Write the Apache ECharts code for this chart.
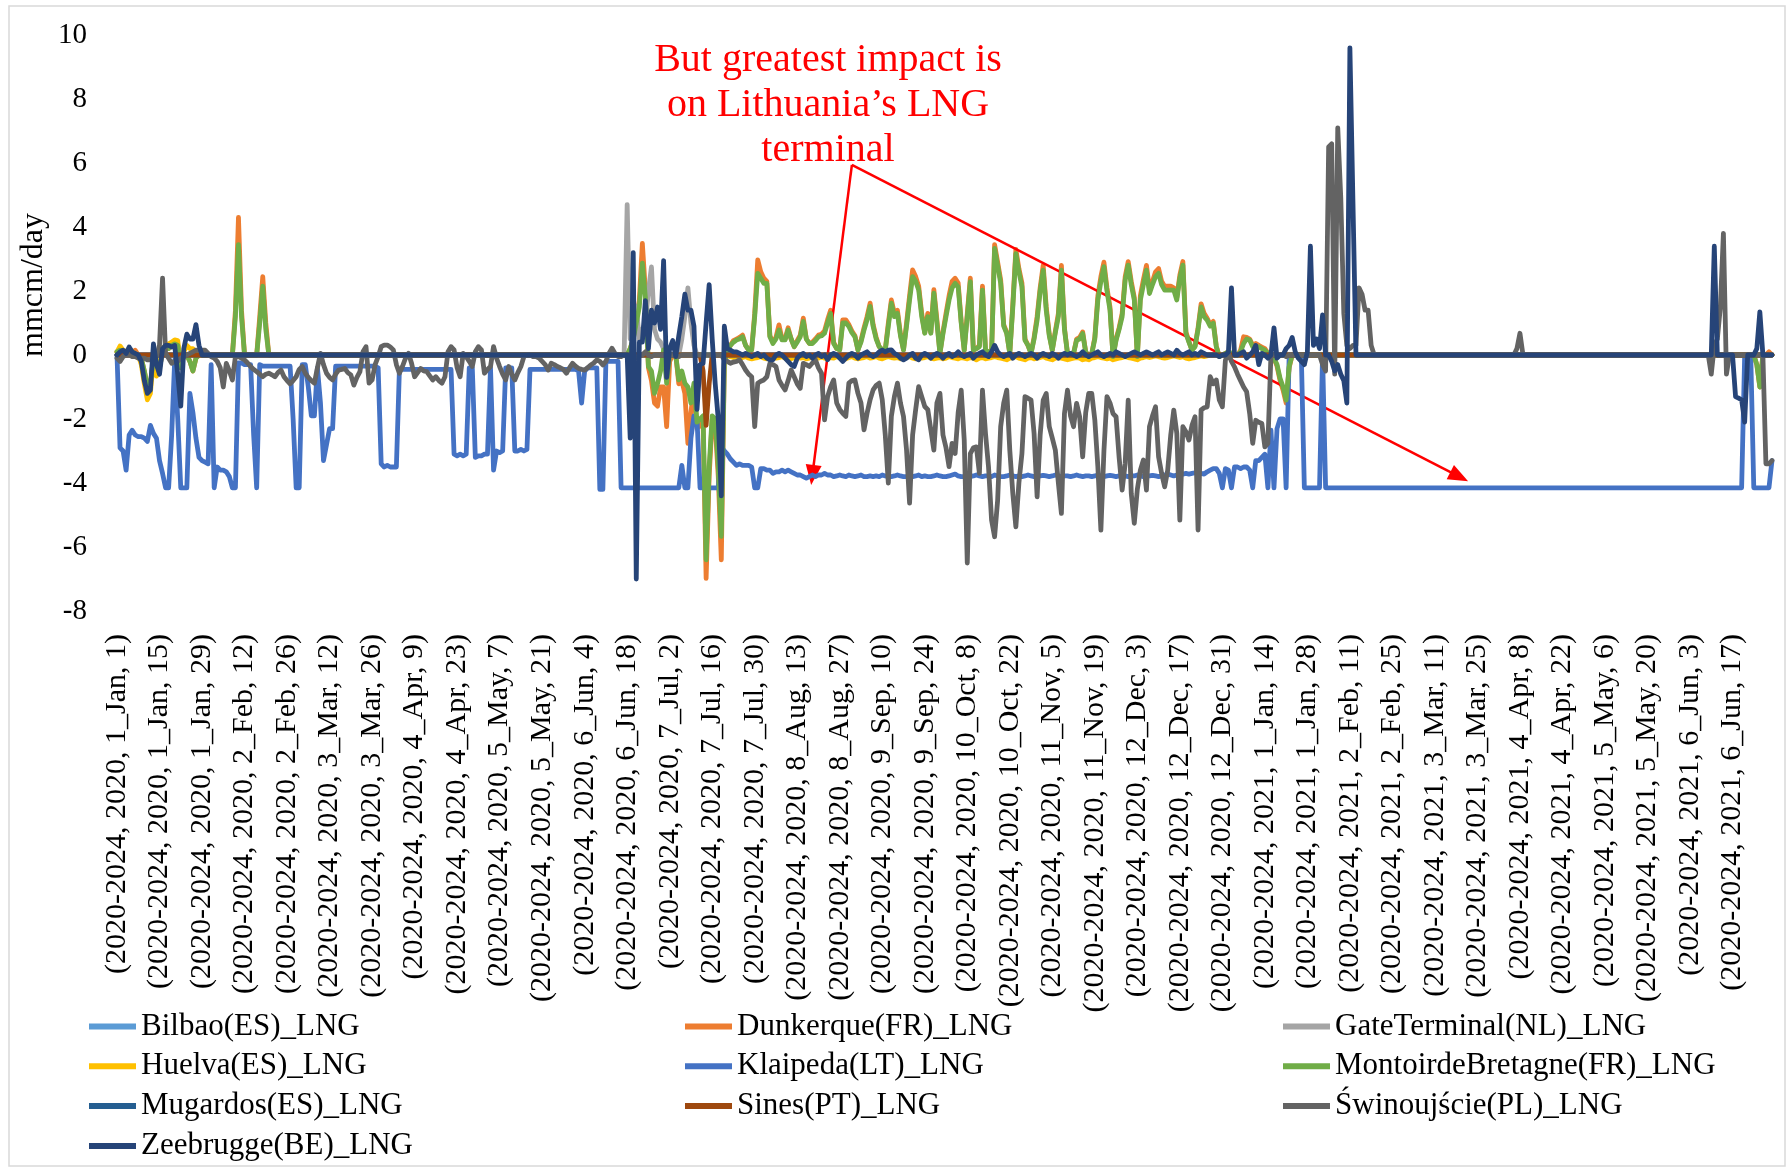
<!DOCTYPE html>
<html><head><meta charset="utf-8">
<script src="https://cdn.jsdelivr.net/npm/echarts/dist/echarts.min.js"></script>
<style>html,body{margin:0;padding:0;background:#fff}#c{width:1791px;height:1171px}</style>
</head><body><div id="c"></div>
<script>
const tickLabels = [
"(2020-2024, 2020, 1_Jan, 1)","(2020-2024, 2020, 1_Jan, 15)","(2020-2024, 2020, 1_Jan, 29)","(2020-2024, 2020, 2_Feb, 12)",
"(2020-2024, 2020, 2_Feb, 26)","(2020-2024, 2020, 3_Mar, 12)","(2020-2024, 2020, 3_Mar, 26)","(2020-2024, 2020, 4_Apr, 9)",
"(2020-2024, 2020, 4_Apr, 23)","(2020-2024, 2020, 5_May, 7)","(2020-2024, 2020, 5_May, 21)","(2020-2024, 2020, 6_Jun, 4)",
"(2020-2024, 2020, 6_Jun, 18)","(2020-2024, 2020, 7_Jul, 2)","(2020-2024, 2020, 7_Jul, 16)","(2020-2024, 2020, 7_Jul, 30)",
"(2020-2024, 2020, 8_Aug, 13)","(2020-2024, 2020, 8_Aug, 27)","(2020-2024, 2020, 9_Sep, 10)","(2020-2024, 2020, 9_Sep, 24)",
"(2020-2024, 2020, 10_Oct, 8)","(2020-2024, 2020, 10_Oct, 22)","(2020-2024, 2020, 11_Nov, 5)","(2020-2024, 2020, 11_Nov, 19)",
"(2020-2024, 2020, 12_Dec, 3)","(2020-2024, 2020, 12_Dec, 17)","(2020-2024, 2020, 12_Dec, 31)","(2020-2024, 2021, 1_Jan, 14)",
"(2020-2024, 2021, 1_Jan, 28)","(2020-2024, 2021, 2_Feb, 11)","(2020-2024, 2021, 2_Feb, 25)","(2020-2024, 2021, 3_Mar, 11)",
"(2020-2024, 2021, 3_Mar, 25)","(2020-2024, 2021, 4_Apr, 8)","(2020-2024, 2021, 4_Apr, 22)","(2020-2024, 2021, 5_May, 6)",
"(2020-2024, 2021, 5_May, 20)","(2020-2024, 2021, 6_Jun, 3)","(2020-2024, 2021, 6_Jun, 17)"];
const tickStep = 14;
const dayCount = 546;

const seriesNames = ["Bilbao(ES)_LNG","Dunkerque(FR)_LNG","GateTerminal(NL)_LNG","Huelva(ES)_LNG","Klaipeda(LT)_LNG",
"MontoirdeBretagne(FR)_LNG","Mugardos(ES)_LNG","Sines(PT)_LNG","Świnoujście(PL)_LNG","Zeebrugge(BE)_LNG"];
const seriesColors = ["#5B9BD5","#ED7D31","#A5A5A5","#FFC000","#4472C4","#70AD47","#255E91","#9E480E","#636363","#264478"];

const bilbao = [
/*0*/0,0,0,0,0,0,0,0,0,0,/*10*/0,0,0,0,0,0,0,0,0,0,/*20*/0,0,0,0,0,0,0,0,0,0,/*30*/0,0,0,0,0,0,0,0,0,0,
/*40*/0,0,0,0,0,0,0,0,0,0,/*50*/0,0,0,0,0,0,0,0,0,0,/*60*/0,0,0,0,0,0,0,0,0,0,/*70*/0,0,0,0,0,0,0,0,0,0,
/*80*/0,0,0,0,0,0,0,0,0,0,/*90*/0,0,0,0,0,0,0,0,0,0,/*100*/0,0,0,0,0,0,0,0,0,0,/*110*/0,0,0,0,0,0,0,0,0,0,
/*120*/0,0,0,0,0,0,0,0,0,0,/*130*/0,0,0,0,0,0,0,0,0,0,/*140*/0,0,0,0,0,0,0,0,0,0,/*150*/0,0,0,0,0,0,0,0,0,0,
/*160*/0,0,0,0,0,0,0,0,0,0,/*170*/0,0,0,0,0,0,0,0,0,0,/*180*/0,0,0,0,0,0,0,0,0,0,/*190*/0,0,0,0,0,0,0,0,0,0,
/*200*/0,0,0,0,0,0,0,0,0,0,/*210*/0,0,0,0,0,0,0,0,0,0,/*220*/0,0,0,0,0,0,0,0,0,0,/*230*/0,0,0,0,0,0,0,0,0,0,
/*240*/0,0,0,0,0,0,0,0,0,0,/*250*/0,0,0,0,0,0,0,0,0,0,/*260*/0,0,0,0,0,0,0,0,0,0,/*270*/0,0,0,0,0,0,0,0,0,0,
/*280*/0,0,0,0,0,0,0,0,0,0,/*290*/0,0,0,0,0,0,0,0,0,0,/*300*/0,0,0,0,0,0,0,0,0,0,/*310*/0,0,0,0,0,0,0,0,0,0,
/*320*/0,0,0,0,0,0,0,0,0,0,/*330*/0,0,0,0,0,0,0,0,0,0,/*340*/0,0,0,0,0,0,0,0,0,0,/*350*/0,0,0,0,0,0,0,0,0,0,
/*360*/0,0,0,0,0,0,0,0,0,0,/*370*/0,0,0,0,0,0,0,0,0,0,/*380*/0,0,0,0,0,0,0,0,0,0,/*390*/0,0,0,0,0,0,0,0,0,0,
/*400*/0,0,0,0,0,0,0,0,0,0,/*410*/0,0,0,0,0,0,0,0,0,0,/*420*/0,0,0,0,0,0,0,0,0,0,/*430*/0,0,0,0,0,0,0,0,0,0,
/*440*/0,0,0,0,0,0,0,0,0,0,/*450*/0,0,0,0,0,0,0,0,0,0,/*460*/0,0,0,0,0,0,0,0,0,0,/*470*/0,0,0,0,0,0,0,0,0,0,
/*480*/0,0,0,0,0,0,0,0,0,0,/*490*/0,0,0,0,0,0,0,0,0,0,/*500*/0,0,0,0,0,0,0,0,0,0,/*510*/0,0,0,0,0,0,0,0,0,0,
/*520*/0,0,0,0,0,0,0,0,0,0,/*530*/0,0,0,0,0,0,0,0,0,0,/*540*/0,0,0,0,0,0];

const dunkerque = [
/*0*/0.1,0.15,0.1,0.05,0.1,0.05,0.15,0,-0.1,-0.5,
/*10*/-1.0,-0.9,-0.1,-0.3,-0.4,0.1,0.2,0.2,0.3,0.35,
/*20*/0.3,-0.4,0,0,-0.2,-0.5,-0.1,0,0,0,
/*30*/0,0,0,0,0,0,0,0,0,1.4,
/*40*/4.3,1.4,0,0,0,0,0,1.2,2.45,1.0,
/*50*/0,0,0,0,0,0,0,0,0,0,/*60*/0,0,0,0,0,0,0,0,0,0,/*70*/0,0,0,0,0,0,0,0,0,0,/*80*/0,0,0,0,0,0,0,0,0,0,
/*90*/0,0,0,0,0,0,0,0,0,0,/*100*/0,0,0,0,0,0,0,0,0,0,/*110*/0,0,0,0,0,0,0,0,0,0,/*120*/0,0,0,0,0,0,0,0,0,0,
/*130*/0,0,0,0,0,0,0,0,0,0,/*140*/0,0,0,0,0,0,0,0,0,0,/*150*/0,0,0,0,0,0,0,0,0,0,
/*160*/0,0,0,0,0,0,0,0,0,0.2,
/*170*/0.5,1.1,1.7,3.49,2.0,-0.4,-0.8,-1.5,-1.6,-1.0,
/*180*/-1.0,-2.24,-0.2,0,0,-0.9,-0.8,-1.2,-2.76,-1.8,
/*190*/-1.0,-2.3,-2.2,-2.1,-6.98,-3.8,-2.0,-2.2,-3.8,-6.4,
/*200*/-0.3,0.16,0.3,0.45,0.5,0.55,0.62,0.3,0.16,0.16,
/*210*/1.3,2.97,2.6,2.4,2.3,0.6,0.4,0.55,0.94,0.5,
/*220*/0.5,0.85,0.5,0.26,0.45,0.62,1.15,0.5,0.36,0.4,
/*230*/0.5,0.62,0.65,0.75,1.1,1.4,0.4,0.2,0.16,1.1,
/*240*/1.1,0.95,0.75,0.6,0.16,0.45,0.85,1.2,1.62,0.95,
/*250*/0.55,0.26,0.16,0.16,1.0,1.72,1.3,1.4,0.65,0.16,
/*260*/1.0,1.85,2.66,2.45,2.15,1.3,0.7,1.3,0.7,2.04,
/*270*/1.1,0.05,0.72,1.3,1.85,2.3,2.4,2.25,1.05,0.15,
/*280*/1.3,2.4,0.15,0.2,0.3,2.15,0.15,0.1,0.05,3.45,
/*290*/2.9,2.35,0.95,0.7,0.05,1.6,3.3,2.7,2.25,0.5,
/*300*/0.3,0.05,0.55,1.2,2.1,2.8,1.5,0.65,0.15,0.75,
/*310*/1.3,2.8,0.85,0.05,0.05,0.05,0.5,0.55,0.72,0.1,
/*320*/-0.05,0.05,0.55,1.85,2.45,2.9,2.1,1.5,-0.05,0.5,
/*330*/0.85,1.3,2.45,2.92,2.3,1.8,-0.05,1.85,2.35,2.8,
/*340*/2.05,2.3,2.6,2.7,2.3,2.15,2.15,2.15,2.1,1.8,
/*350*/2.5,2.92,0.72,0.42,0.15,0.28,0.85,1.6,1.3,1.15,
/*360*/0.95,1.05,0.28,-0.05,0,0.05,0.1,0.05,0,0,
/*370*/0.15,0.57,0.55,0.5,0.3,0.36,0.3,0.25,0.2,0.05,
/*380*/0,-0.1,-0.35,-0.8,-1.1,-1.5,-0.4,0,0,0,
/*390*/0,0,0,0,0,0,0,0,0,0,/*400*/0,0,0,0,0,0,0,0,0,0,/*410*/0,0,0,0,0,0,0,0,0,0,/*420*/0,0,0,0,0,0,0,0,0,0,
/*430*/0,0,0,0,0,0,0,0,0,0,/*440*/0,0,0,0,0,0,0,0,0,0,/*450*/0,0,0,0,0,0,0,0,0,0,/*460*/0,0,0,0,0,0,0,0,0,0,
/*470*/0,0,0,0,0,0,0,0,0,0,/*480*/0,0,0,0,0,0,0,0,0,0,/*490*/0,0,0,0,0,0,0,0,0,0,/*500*/0,0,0,0,0,0,0,0,0,0,
/*510*/0,0,0,0,0,0,0,0,0,0,/*520*/0,0,0,0,0,0,0,0,0,0,/*530*/0,0,0,0,0,0,0,0,0,0,
/*540*/-0.3,-1.0,0,0,0.1,0];

const gateTerminal = [
/*0*/0,0,0,0,0,0,0,0,0,0,/*10*/0,0,0,0,0,0,0,0,0,0,/*20*/0,0,0,0,0,0,0,0,0,0,/*30*/0,0,0,0,0,0,0,0,0,0,
/*40*/0,0,0,0,0,0,0,0,0,0,/*50*/0,0,0,0,0,0,0,0,0,0,/*60*/0,0,0,0,0,0,0,0,0,0,/*70*/0,0,0,0,0,0,0,0,0,0,
/*80*/0,0,0,0,0,0,0,0,0,0,/*90*/0,0,0,0,0,0,0,0,0,0,/*100*/0,0,0,0,0,0,0,0,0,0,/*110*/0,0,0,0,0,0,0,0,0,0,
/*120*/0,0,0,0,0,0,0,0,0,0,/*130*/0,0,0,0,0,0,0,0,0,0,/*140*/0,0,0,0,0,0,0,0,0,0,/*150*/0,0,0,0,0,0,0,0,0,0,
/*160*/0,0,0,0,0,0,0,0,4.7,0.5,
/*170*/1.6,1.5,0.5,0.8,1.0,2.0,2.75,0.8,0.5,0.4,
/*180*/0.2,0,0,0,0,0,0.5,1.2,2.1,1.0,
/*190*/0.3,0,0,0,0,0,0,0,0,0,
/*200*/0,0,0,0,0,0,0,0,0,0,/*210*/0,0,0,0,0,0,0,0,0,0,/*220*/0,0,0,0,0,0,0,0,0,0,/*230*/0,0,0,0,0,0,0,0,0,0,
/*240*/0,0,0,0,0,0,0,0,0,0,/*250*/0,0,0,0,0,0,0,0,0,0,/*260*/0,0,0,0,0,0,0,0,0,0,/*270*/0,0,0,0,0,0,0,0,0,0,
/*280*/0,0,0,0,0,0,0,0,0,0,/*290*/0,0,0,0,0,0,0,0,0,0,/*300*/0,0,0,0,0,0,0,0,0,0,/*310*/0,0,0,0,0,0,0,0,0,0,
/*320*/0,0,0,0,0,0,0,0,0,0,/*330*/0,0,0,0,0,0,0,0,0,0,/*340*/0,0,0,0,0,0,0,0,0,0,/*350*/0,0,0,0,0,0,0,0,0,0,
/*360*/0,0,0,0,0,0,0,0,0,0,/*370*/0,0,0,0,0,0,0,0,0,0,/*380*/0,0,0,0,0,0,0,0,0,0,/*390*/0,0,0,0,0,0,0,0,0,0,
/*400*/0,0,0,0,0,0,0,0,0,0,/*410*/0,0,0,0,0,0,0,0,0,0,/*420*/0,0,0,0,0,0,0,0,0,0,/*430*/0,0,0,0,0,0,0,0,0,0,
/*440*/0,0,0,0,0,0,0,0,0,0,/*450*/0,0,0,0,0,0,0,0,0,0,/*460*/0,0,0,0,0,0,0,0,0,0,/*470*/0,0,0,0,0,0,0,0,0,0,
/*480*/0,0,0,0,0,0,0,0,0,0,/*490*/0,0,0,0,0,0,0,0,0,0,/*500*/0,0,0,0,0,0,0,0,0,0,/*510*/0,0,0,0,0,0,0,0,0,0,
/*520*/0,0,0,0,0,0,0,0,0,0,/*530*/0,0,0,0,0,0,0,0,0,0,/*540*/0,0,0,0,0,0];

const huelva = [
/*0*/0.1,0.28,0.15,0.1,0.2,0.1,0.05,0,-0.3,-0.9,
/*10*/-1.4,-1.2,-0.1,-0.66,-0.3,0.2,0.3,0.35,0.4,0.47,
/*20*/0.45,-0.3,0.1,0.3,0.2,0.2,0.1,0,0,0,
/*30*/0,0,0,0,0,0,0,0,0,0,/*40*/0,0,0,0,0,0,0,0,0,0,/*50*/0,0,0,0,0,0,0,0,0,0,/*60*/0,0,0,0,0,0,0,0,0,0,
/*70*/0,0,0,0,0,0,0,0,0,0,/*80*/0,0,0,0,0,0,0,0,0,0,/*90*/0,0,0,0,0,0,0,0,0,0,/*100*/0,0,0,0,0,0,0,0,0,0,
/*110*/0,0,0,0,0,0,0,0,0,0,/*120*/0,0,0,0,0,0,0,0,0,0,/*130*/0,0,0,0,0,0,0,0,0,0,/*140*/0,0,0,0,0,0,0,0,0,0,
/*150*/0,0,0,0,0,0,0,0,0,0,/*160*/0,0,0,0,0,0,0,0,0,0,/*170*/0,0,0,0,0,0,0,0,0,0,/*180*/0,0,0,0,0,0,0,0,0,0,
/*190*/0,0,0,0,0,0,0,0,0,0,
/*200*/0,-0.03,-0.05,-0.08,-0.05,-0.1,-0.08,-0.05,-0.1,-0.12,
/*210*/-0.1,-0.08,-0.05,-0.1,-0.12,-0.08,-0.05,-0.1,-0.08,-0.05,
/*220*/-0.1,-0.15,-0.12,-0.08,-0.05,-0.1,-0.08,-0.12,-0.1,-0.05,
/*230*/-0.08,-0.1,-0.05,-0.1,-0.12,-0.08,-0.1,-0.05,-0.08,-0.1,
/*240*/-0.12,-0.08,-0.05,-0.1,-0.12,-0.1,-0.08,-0.05,-0.1,-0.08,
/*250*/-0.05,-0.1,-0.12,-0.08,-0.05,-0.08,-0.1,-0.08,-0.12,-0.1,
/*260*/-0.08,-0.05,-0.1,-0.12,-0.08,-0.1,-0.08,-0.05,-0.1,-0.12,
/*270*/-0.1,-0.08,-0.12,-0.1,-0.05,-0.08,-0.1,-0.12,-0.08,-0.1,
/*280*/-0.12,-0.08,-0.1,-0.15,-0.1,-0.08,-0.12,-0.1,-0.08,-0.05,
/*290*/-0.08,-0.1,-0.12,-0.15,-0.1,-0.08,-0.05,-0.1,-0.12,-0.15,
/*300*/-0.1,-0.08,-0.12,-0.1,-0.08,-0.05,-0.1,-0.12,-0.15,-0.1,
/*310*/-0.08,-0.1,-0.12,-0.15,-0.12,-0.1,-0.08,-0.1,-0.15,-0.12,
/*320*/-0.15,-0.1,-0.08,-0.05,-0.08,-0.1,-0.12,-0.1,-0.15,-0.12,
/*330*/-0.1,-0.08,-0.05,-0.08,-0.1,-0.12,-0.15,-0.1,-0.08,-0.05,
/*340*/-0.08,-0.05,-0.03,-0.05,-0.08,-0.1,-0.08,-0.05,-0.03,-0.05,
/*350*/-0.08,-0.05,-0.1,-0.12,-0.1,-0.08,-0.05,-0.03,-0.05,-0.03,
/*360*/0,0,0,0,0,0,0,0,0,0,/*370*/0,0,0,0,0,0,0,0,0,0,/*380*/0,0,0,0,0,0,0,0,0,0,/*390*/0,0,0,0,0,0,0,0,0,0,
/*400*/0,0,0,0,0,0,0,0,0,0,/*410*/0,0,0,0,0,0,0,0,0,0,/*420*/0,0,0,0,0,0,0,0,0,0,/*430*/0,0,0,0,0,0,0,0,0,0,
/*440*/0,0,0,0,0,0,0,0,0,0,/*450*/0,0,0,0,0,0,0,0,0,0,/*460*/0,0,0,0,0,0,0,0,0,0,/*470*/0,0,0,0,0,0,0,0,0,0,
/*480*/0,0,0,0,0,0,0,0,0,0,/*490*/0,0,0,0,0,0,0,0,0,0,/*500*/0,0,0,0,0,0,0,0,0,0,/*510*/0,0,0,0,0,0,0,0,0,0,
/*520*/0,0,0,0,0,0,0,0,0,0,/*530*/0,0,0,0,0,0,0,0,0,0,/*540*/0,0,0,0,0,0];

const klaipeda = [
/*0*/0,-2.9,-3.0,-3.6,-2.5,-2.35,-2.5,-2.55,-2.55,-2.6,
/*10*/-2.7,-2.2,-2.45,-2.6,-3.3,-3.7,-4.15,-4.15,-2.5,-0.15,
/*20*/-2.0,-4.15,-4.15,-4.15,-1.2,-1.8,-2.6,-3.2,-3.3,-3.35,
/*30*/-3.4,-0.3,-4.15,-3.5,-3.6,-3.6,-3.65,-3.8,-4.15,-4.15,
/*40*/-0.25,-0.25,-0.3,-0.3,-0.3,-2.5,-4.15,-0.3,-0.35,-0.35,
/*50*/-0.35,-0.35,-0.35,-0.35,-0.35,-0.35,-0.35,-0.35,-2.0,-4.15,
/*60*/-4.15,-0.3,-0.3,-1.0,-1.9,-1.9,-0.4,-1.5,-3.3,-2.8,
/*70*/-2.3,-2.3,-0.35,-0.35,-0.35,-0.35,-0.35,-0.35,-0.35,-0.35,
/*80*/-0.35,-0.35,-0.35,-0.35,-0.35,-0.35,-0.4,-3.4,-3.5,-3.45,
/*90*/-3.5,-3.5,-3.5,-0.45,-0.45,-0.45,-0.45,-0.45,-0.45,-0.45,
/*100*/-0.45,-0.45,-0.45,-0.45,-0.45,-0.45,-0.45,-0.45,-0.45,-0.45,
/*110*/-0.45,-3.1,-3.15,-3.1,-3.15,-3.1,-0.4,-0.4,-3.2,-3.15,
/*120*/-3.15,-3.1,-3.1,-0.4,-3.6,-3.0,-3.05,-3.0,-0.4,-0.4,
/*130*/-0.4,-3.0,-3.0,-2.95,-3.0,-2.95,-0.45,-0.45,-0.45,-0.45,
/*140*/-0.45,-0.45,-0.45,-0.45,-0.45,-0.45,-0.45,-0.45,-0.45,-0.45,
/*150*/-0.45,-0.45,-0.5,-1.5,-0.5,-0.4,-0.4,-0.4,-0.4,-4.2,
/*160*/-4.2,-0.2,-0.2,-0.2,-0.2,-0.2,-4.15,-4.15,-4.15,-4.15,
/*170*/-4.15,-4.15,-4.15,-4.15,-4.15,-4.15,-4.15,-4.15,-4.15,-4.15,
/*180*/-4.15,-4.15,-4.15,-4.15,-4.15,-4.15,-3.45,-4.15,-4.15,-2.6,
/*190*/-1.9,-2.0,-4.15,-4.15,-4.15,-4.15,-4.15,-4.15,-4.15,-2.85,
/*200*/-3.0,-3.1,-3.25,-3.35,-3.45,-3.4,-3.45,-3.45,-3.45,-3.5,
/*210*/-4.15,-4.15,-3.55,-3.55,-3.6,-3.6,-3.7,-3.65,-3.65,-3.6,
/*220*/-3.65,-3.6,-3.65,-3.7,-3.75,-3.75,-3.8,-3.85,-3.8,-3.75,
/*230*/-3.8,-3.75,-3.75,-3.7,-3.75,-3.75,-3.8,-3.78,-3.75,-3.78,
/*240*/-3.8,-3.75,-3.78,-3.8,-3.78,-3.75,-3.8,-3.8,-3.78,-3.8,
/*250*/-3.78,-3.8,-3.75,-3.78,-3.8,-3.8,-3.78,-3.75,-3.78,-3.8,
/*260*/-3.8,-3.78,-3.8,-3.78,-3.75,-3.8,-3.78,-3.8,-3.8,-3.78,
/*270*/-3.75,-3.78,-3.8,-3.8,-3.78,-3.75,-3.72,-3.78,-3.8,-3.8,
/*280*/-3.78,-3.8,-3.78,-3.75,-3.78,-3.8,-3.78,-3.78,-3.8,-3.75,
/*290*/-3.78,-3.8,-3.8,-3.78,-3.75,-3.78,-3.8,-3.78,-3.8,-3.78,
/*300*/-3.75,-3.78,-3.8,-3.8,-3.78,-3.76,-3.78,-3.8,-3.78,-3.75,
/*310*/-3.78,-3.8,-3.78,-3.78,-3.8,-3.78,-3.75,-3.78,-3.8,-3.78,
/*320*/-3.78,-3.8,-3.78,-3.75,-3.78,-3.8,-3.78,-3.76,-3.78,-3.8,
/*330*/-3.78,-3.75,-3.78,-3.8,-3.78,-3.78,-3.75,-3.78,-3.8,-3.78,
/*340*/-3.78,-3.76,-3.78,-3.8,-3.78,-3.75,-3.72,-3.75,-3.78,-3.75,
/*350*/-3.75,-3.72,-3.7,-3.72,-3.7,-3.68,-3.7,-3.7,-3.72,-3.65,
/*360*/-3.6,-3.55,-3.55,-3.7,-4.15,-3.55,-3.6,-4.15,-3.5,-3.5,
/*370*/-3.55,-3.5,-3.5,-3.6,-4.15,-3.3,-3.3,-3.2,-3.1,-4.15,
/*380*/-2.35,-4.15,-2.3,-2.0,-2.0,-4.15,0,0,0,0,
/*390*/0,-4.15,-4.15,-4.15,-4.15,-4.15,-4.15,0,-4.15,-4.15,
/*400*/-4.15,-4.15,-4.15,-4.15,-4.15,-4.15,-4.15,-4.15,-4.15,-4.15,
/*410*/-4.15,-4.15,-4.15,-4.15,-4.15,-4.15,-4.15,-4.15,-4.15,-4.15,
/*420*/-4.15,-4.15,-4.15,-4.15,-4.15,-4.15,-4.15,-4.15,-4.15,-4.15,
/*430*/-4.15,-4.15,-4.15,-4.15,-4.15,-4.15,-4.15,-4.15,-4.15,-4.15,
/*440*/-4.15,-4.15,-4.15,-4.15,-4.15,-4.15,-4.15,-4.15,-4.15,-4.15,
/*450*/-4.15,-4.15,-4.15,-4.15,-4.15,-4.15,-4.15,-4.15,-4.15,-4.15,
/*460*/-4.15,-4.15,-4.15,-4.15,-4.15,-4.15,-4.15,-4.15,-4.15,-4.15,
/*470*/-4.15,-4.15,-4.15,-4.15,-4.15,-4.15,-4.15,-4.15,-4.15,-4.15,
/*480*/-4.15,-4.15,-4.15,-4.15,-4.15,-4.15,-4.15,-4.15,-4.15,-4.15,
/*490*/-4.15,-4.15,-4.15,-4.15,-4.15,-4.15,-4.15,-4.15,-4.15,-4.15,
/*500*/-4.15,-4.15,-4.15,-4.15,-4.15,-4.15,-4.15,-4.15,-4.15,-4.15,
/*510*/-4.15,-4.15,-4.15,-4.15,-4.15,-4.15,-4.15,-4.15,-4.15,-4.15,
/*520*/-4.15,-4.15,-4.15,-4.15,-4.15,-4.15,-4.15,-4.15,-4.15,-4.15,
/*530*/-4.15,-4.15,-4.15,-4.15,-4.15,-4.15,0,0,0,-4.15,
/*540*/-4.15,-4.15,-4.15,-4.15,-4.15,-3.3];

const montoir = [
/*0*/0.1,0.15,0.1,0.05,0.1,0.05,0,0,-0.1,-0.5,
/*10*/-1.0,-0.9,-0.1,-0.3,-0.4,0.1,0.2,0.2,0.3,0.35,
/*20*/0.3,-0.4,0,0,-0.2,-0.5,-0.1,0,0,0,
/*30*/0,0,0,0,0,0,0,0,0,1.2,
/*40*/3.45,1.2,0,0,0,0,0,1.0,2.15,0.8,
/*50*/0,0,0,0,0,0,0,0,0,0,/*60*/0,0,0,0,0,0,0,0,0,0,/*70*/0,0,0,0,0,0,0,0,0,0,/*80*/0,0,0,0,0,0,0,0,0,0,
/*90*/0,0,0,0,0,0,0,0,0,0,/*100*/0,0,0,0,0,0,0,0,0,0,/*110*/0,0,0,0,0,0,0,0,0,0,/*120*/0,0,0,0,0,0,0,0,0,0,
/*130*/0,0,0,0,0,0,0,0,0,0,/*140*/0,0,0,0,0,0,0,0,0,0,/*150*/0,0,0,0,0,0,0,0,0,0,
/*160*/0,0,0,0,0,0,0,0,0,0.2,
/*170*/0.5,1.0,1.5,2.87,1.8,-0.36,-0.5,-1.2,-0.9,-0.5,
/*180*/0.16,-0.88,0,0,0,-0.78,-0.5,-0.88,-1.0,-1.5,
/*190*/-0.88,-2.1,-2.0,-1.9,-6.4,-3.5,-1.9,-2.0,-3.5,-5.67,
/*200*/-0.26,0.16,0.3,0.4,0.47,0.5,0.57,0.3,0.16,0.16,
/*210*/1.2,2.55,2.4,2.24,2.24,0.57,0.36,0.5,0.78,0.47,
/*220*/0.47,0.78,0.5,0.26,0.4,0.57,1.05,0.5,0.36,0.36,
/*230*/0.45,0.57,0.6,0.68,1.0,1.3,0.36,0.2,0.16,1.0,
/*240*/1.0,0.89,0.7,0.57,0.16,0.4,0.78,1.1,1.52,0.89,
/*250*/0.5,0.26,0.16,0.16,0.9,1.62,1.2,1.3,0.6,0.16,
/*260*/0.9,1.72,2.45,2.3,2.03,1.2,0.68,1.2,0.68,1.93,
/*270*/1.0,0.05,0.67,1.2,1.72,2.1,2.24,2.13,1.0,0.15,
/*280*/1.2,2.29,0.15,0.2,0.26,2.03,0.15,0.1,0.05,3.33,
/*290*/2.8,2.24,0.9,0.67,0.05,1.5,3.17,2.6,2.13,0.46,
/*300*/0.3,0.05,0.5,1.09,2.0,2.65,1.4,0.6,0.15,0.7,
/*310*/1.2,2.65,0.8,0.05,0.05,0.05,0.46,0.5,0.67,0.1,
/*320*/-0.05,0.05,0.5,1.72,2.3,2.76,2.0,1.4,-0.05,0.46,
/*330*/0.8,1.2,2.34,2.81,2.2,1.72,-0.05,1.72,2.2,2.65,
/*340*/1.92,2.2,2.45,2.55,2.2,2.03,2.03,2.03,2.03,1.72,
/*350*/2.4,2.81,0.67,0.4,0.15,0.26,0.8,1.5,1.2,1.09,
/*360*/0.9,0.99,0.26,-0.05,0,0.05,0.1,0.05,0,0,
/*370*/0.1,0.36,0.5,0.47,0.26,0.2,0.26,0.2,0.15,0.05,
/*380*/0,-0.1,-0.3,-0.73,-1.0,-1.41,-0.36,0,0,0,
/*390*/0,0,0,0,0,0,0,0,0,0,/*400*/0,0,0,0,0,0,0,0,0,0,/*410*/0,0,0,0,0,0,0,0,0,0,/*420*/0,0,0,0,0,0,0,0,0,0,
/*430*/0,0,0,0,0,0,0,0,0,0,/*440*/0,0,0,0,0,0,0,0,0,0,/*450*/0,0,0,0,0,0,0,0,0,0,/*460*/0,0,0,0,0,0,0,0,0,0,
/*470*/0,0,0,0,0,0,0,0,0,0,/*480*/0,0,0,0,0,0,0,0,0,0,/*490*/0,0,0,0,0,0,0,0,0,0,/*500*/0,0,0,0,0,0,0,0,0,0,
/*510*/0,0,0,0,0,0,0,0,0,0,/*520*/0,0,0,0,0,0,0,0,0,0,/*530*/0,0,0,0,0,0,0,0,0,0,
/*540*/-0.3,-1.0,0,0,0,0];

const mugardos = [
/*0*/0,0,0,0,0,0,0,0,0,0,/*10*/0,0,0,0,0,0,0,0,0,0,/*20*/0,0,0,0,0,0,0,0,0,0,/*30*/0,0,0,0,0,0,0,0,0,0,
/*40*/0,0,0,0,0,0,0,0,0,0,/*50*/0,0,0,0,0,0,0,0,0,0,/*60*/0,0,0,0,0,0,0,0,0,0,/*70*/0,0,0,0,0,0,0,0,0,0,
/*80*/0,0,0,0,0,0,0,0,0,0,/*90*/0,0,0,0,0,0,0,0,0,0,/*100*/0,0,0,0,0,0,0,0,0,0,/*110*/0,0,0,0,0,0,0,0,0,0,
/*120*/0,0,0,0,0,0,0,0,0,0,/*130*/0,0,0,0,0,0,0,0,0,0,/*140*/0,0,0,0,0,0,0,0,0,0,/*150*/0,0,0,0,0,0,0,0,0,0,
/*160*/0,0,0,0,0,0,0,0,0,0,/*170*/0,0,0,0,0,0,0,0,0,0,/*180*/0,0,0,0,0,0,0,0,0,0,/*190*/0,0,0,0,0,0,0,0,0,0,
/*200*/0,0,0,0,0,0,0,0,0,0,/*210*/0,0,0,0,0,0,0,0,0,0,/*220*/0,0,0,0,0,0,0,0,0,0,/*230*/0,0,0,0,0,0,0,0,0,0,
/*240*/0,0,0,0,0,0,0,0,0,0,/*250*/0,0,0,0,0,0,0,0,0,0,/*260*/0,0,0,0,0,0,0,0,0,0,/*270*/0,0,0,0,0,0,0,0,0,0,
/*280*/0,0,0,0,0,0,0,0,0,0,/*290*/0,0,0,0,0,0,0,0,0,0,/*300*/0,0,0,0,0,0,0,0,0,0,/*310*/0,0,0,0,0,0,0,0,0,0,
/*320*/0,0,0,0,0,0,0,0,0,0,/*330*/0,0,0,0,0,0,0,0,0,0,/*340*/0,0,0,0,0,0,0,0,0,0,/*350*/0,0,0,0,0,0,0,0,0,0,
/*360*/0,0,0,0,0,0,0,0,0,0,/*370*/0,0,0,0,0,0,0,0,0,0,/*380*/0,0,0,0,0,0,0,0,0,0,/*390*/0,0,0,0,0,0,0,0,0,0,
/*400*/0,0,0,0,0,0,0,0,0,0,/*410*/0,0,0,0,0,0,0,0,0,0,/*420*/0,0,0,0,0,0,0,0,0,0,/*430*/0,0,0,0,0,0,0,0,0,0,
/*440*/0,0,0,0,0,0,0,0,0,0,/*450*/0,0,0,0,0,0,0,0,0,0,/*460*/0,0,0,0,0,0,0,0,0,0,/*470*/0,0,0,0,0,0,0,0,0,0,
/*480*/0,0,0,0,0,0,0,0,0,0,/*490*/0,0,0,0,0,0,0,0,0,0,/*500*/0,0,0,0,0,0,0,0,0,0,/*510*/0,0,0,0,0,0,0,0,0,0,
/*520*/0,0,0,0,0,0,0,0,0,0,/*530*/0,0,0,0,0,0,0,0,0,0,/*540*/0,0,0,0,0,0];

const sines = [
/*0*/0,0,0,0,0,0,0,0,0,0,/*10*/0,0,0,0,0,0,0,0,0,0,/*20*/0,0,0,0,0,0,0,0,0,0,/*30*/0,0,0,0,0,0,0,0,0,0,
/*40*/0,0,0,0,0,0,0,0,0,0,/*50*/0,0,0,0,0,0,0,0,0,0,/*60*/0,0,0,0,0,0,0,0,0,0,/*70*/0,0,0,0,0,0,0,0,0,0,
/*80*/0,0,0,0,0,0,0,0,0,0,/*90*/0,0,0,0,0,0,0,0,0,0,/*100*/0,0,0,0,0,0,0,0,0,0,/*110*/0,0,0,0,0,0,0,0,0,0,
/*120*/0,0,0,0,0,0,0,0,0,0,/*130*/0,0,0,0,0,0,0,0,0,0,/*140*/0,0,0,0,0,0,0,0,0,0,/*150*/0,0,0,0,0,0,0,0,0,0,
/*160*/0,0,0,0,0,0,0,0,0,0,/*170*/0,0,0,0,0,0,0,0,0,0,/*180*/0,0,0,0,0,0,0,0,0,0,
/*190*/0,0,0,-0.5,-2.2,-0.9,0,0,0,0,
/*200*/0,0,0,0,0,0,0,0,0,0,/*210*/0,0,0,0,0,0,0,0,0,0,/*220*/0,0,0,0,0,0,0,0,0,0,/*230*/0,0,0,0,0,0,0,0,0,0,
/*240*/0,0,0,0,0,0,0,0,0,0,/*250*/0,0,0,0,0,0,0,0,0,0,/*260*/0,0,0,0,0,0,0,0,0,0,/*270*/0,0,0,0,0,0,0,0,0,0,
/*280*/0,0,0,0,0,0,0,0,0,0,/*290*/0,0,0,0,0,0,0,0,0,0,/*300*/0,0,0,0,0,0,0,0,0,0,/*310*/0,0,0,0,0,0,0,0,0,0,
/*320*/0,0,0,0,0,0,0,0,0,0,/*330*/0,0,0,0,0,0,0,0,0,0,/*340*/0,0,0,0,0,0,0,0,0,0,/*350*/0,0,0,0,0,0,0,0,0,0,
/*360*/0,0,0,0,0,0,0,0,0,0,/*370*/0,0,0,0,0,0,0,0,0,0,/*380*/0,0,0,0,0,0,0,0,0,0,/*390*/0,0,0,0,0,0,0,0,0,0,
/*400*/0,0,0,0,0,0,0,0,0,0,/*410*/0,0,0,0,0,0,0,0,0,0,/*420*/0,0,0,0,0,0,0,0,0,0,/*430*/0,0,0,0,0,0,0,0,0,0,
/*440*/0,0,0,0,0,0,0,0,0,0,/*450*/0,0,0,0,0,0,0,0,0,0,/*460*/0,0,0,0,0,0,0,0,0,0,/*470*/0,0,0,0,0,0,0,0,0,0,
/*480*/0,0,0,0,0,0,0,0,0,0,/*490*/0,0,0,0,0,0,0,0,0,0,/*500*/0,0,0,0,0,0,0,0,0,0,/*510*/0,0,0,0,0,0,0,0,0,0,
/*520*/0,0,0,0,0,0,0,0,0,0,/*530*/0,0,0,0,0,0,0,0,0,0,/*540*/0,0,0,0,0,0];

const swinoujscie = [
/*0*/-0.1,-0.2,-0.05,0,0,-0.05,-0.05,-0.1,-0.1,-0.1,
/*10*/-0.15,-0.15,-0.1,-0.05,0.3,2.4,0.05,-0.1,-0.26,-0.2,
/*20*/-0.2,-0.1,-0.05,0,0.05,0.1,0.15,0.15,0.15,0.15,
/*30*/0.05,-0.05,-0.1,-0.2,-0.4,-1.0,-0.26,-0.5,-0.78,-0.05,
/*40*/-0.05,-0.1,-0.15,-0.25,-0.36,-0.45,-0.52,-0.6,-0.68,-0.6,
/*50*/-0.57,-0.62,-0.68,-0.55,-0.47,-0.68,-0.8,-0.9,-0.8,-0.68,
/*60*/-0.45,-0.36,-0.57,-0.7,-0.8,-0.88,-0.4,0.05,-0.3,-0.57,
/*70*/-0.7,-0.78,-0.6,-0.47,-0.45,-0.42,-0.55,-0.62,-0.94,-0.7,
/*80*/-0.52,0.1,0.26,-0.88,-0.78,-0.3,-0.05,0.26,0.31,0.31,
/*90*/0.25,0.16,-0.3,-0.57,-0.36,-0.1,0.05,-0.26,-0.68,-0.55,
/*100*/-0.42,-0.5,-0.52,-0.65,-0.78,-0.68,-0.8,-0.88,-0.68,0.1,
/*110*/0.26,0.16,-0.4,-0.68,0.05,-0.05,-0.2,-0.36,0.1,0.26,
/*120*/0.16,-0.57,-0.45,-0.36,0.26,-0.1,-0.36,-0.6,-0.78,-0.36,
/*130*/-0.6,-0.78,-0.55,-0.36,-0.05,0,0,-0.05,-0.05,-0.1,
/*140*/-0.2,-0.3,-0.47,-0.26,-0.3,-0.36,-0.4,-0.45,-0.57,-0.4,
/*150*/-0.26,-0.35,-0.42,-0.45,-0.47,-0.4,-0.31,-0.25,-0.15,-0.2,
/*160*/-0.31,-0.2,0.05,0.21,0.05,-0.05,-0.05,0,0,0,
/*170*/0,-0.1,0,0,0.1,0,-0.05,0,0,0,
/*180*/0,0,0,0,0,-0.05,0,0,0,0,
/*190*/0,0,0,0,0,0,0,0,0,0,
/*200*/-0.15,-0.2,-0.26,-0.22,-0.2,-0.15,-0.3,-0.47,-0.6,-0.68,
/*210*/-2.24,-0.88,-0.82,-0.78,-0.68,-0.26,-0.3,-0.36,-0.78,-0.95,
/*220*/-1.09,-0.8,-0.47,-0.68,-0.9,-1.04,-0.26,-0.3,-0.36,-0.25,
/*230*/-0.15,-0.4,-0.57,-2.03,-1.3,-1.0,-0.78,-1.5,-1.7,-1.82,
/*240*/-1.92,-0.88,-0.8,-0.78,-1.2,-1.5,-2.34,-1.82,-1.4,-1.09,
/*250*/-0.95,-0.88,-1.4,-2.5,-4.0,-1.92,-1.3,-0.88,-1.5,-1.92,
/*260*/-2.97,-4.63,-2.5,-1.71,-0.99,-1.3,-1.61,-1.71,-2.34,-2.97,
/*270*/-1.5,-1.2,-2.5,-2.9,-3.49,-2.76,-3.08,-1.8,-1.1,-2.66,
/*280*/-6.5,-3.08,-2.9,-2.87,-3.7,-1.1,-2.45,-3.5,-5.16,-5.68,
/*290*/-4.54,-2.24,-1.5,-1.1,-2.97,-4.33,-5.37,-4.0,-3.08,-1.3,
/*300*/-1.35,-1.41,-2.45,-4.43,-2.5,-1.41,-1.2,-2.24,-2.6,-2.97,
/*310*/-4.0,-4.95,-1.83,-1.1,-1.9,-2.24,-1.51,-1.93,-3.18,-1.8,
/*320*/-1.2,-1.2,-2.03,-3.49,-5.47,-3.0,-1.3,-1.5,-1.83,-1.93,
/*330*/-3.2,-4.22,-3.39,-1.41,-4.33,-5.26,-4.2,-3.6,-3.28,-4.22,
/*340*/-2.24,-1.9,-1.62,-3.18,-3.7,-4.12,-3.6,-2.5,-1.72,-2.45,
/*350*/-5.16,-2.24,-2.4,-2.66,-2.2,-1.93,-5.47,-1.72,-1.65,-1.62,
/*360*/-0.68,-0.9,-0.78,-1.41,-1.62,-0.16,0.05,-0.2,-0.37,-0.6,
/*370*/-0.8,-1.0,-1.15,-1.83,-2.76,-2.04,-2.1,-2.14,-2.87,-2.76,
/*380*/0,0,0,0,0,-0.05,0,0,0,0,
/*390*/0,0,0,0,0,0,0,-0.3,-0.5,6.5,
/*400*/6.6,-0.6,7.1,4.9,1.3,0.3,0.2,0.3,0.3,2.1,
/*410*/1.9,1.4,1.4,0.3,0,0,0,0,0,0,
/*420*/0,0,0,0,0,0,0,0,0,0,/*430*/0,0,0,0,0,0,0,0,0,0,/*440*/0,0,0,0,0,0,0,0,0,0,/*450*/0,0,0,0,0,0,0,0,0,0,
/*460*/0,0.2,0.68,0,0,0,0,0,0,0,
/*470*/0,0,0,0,0,0,0,0,0,0,/*480*/0,0,0,0,0,0,0,0,0,0,/*490*/0,0,0,0,0,0,0,0,0,0,/*500*/0,0,0,0,0,0,0,0,0,0,
/*510*/0,0,0,0,0,0,0,0,0,0,
/*520*/0,0,0,0,0,-0.6,0.3,0.5,1.5,3.8,
/*530*/-0.6,0,0,0,0,0,0,0,0,0,
/*540*/0,0,0,-3.4,-3.4,-3.3];

const zeebrugge = [
/*0*/0,0.1,0.15,0.05,0.25,0.1,0.05,0,-0.2,-0.8,
/*10*/-1.2,-1.1,0.35,-0.3,-0.6,0.2,0.3,0.3,0.25,0.3,
/*20*/-0.6,-1.6,0.2,0.65,0.5,0.5,0.95,0.3,0,0,
/*30*/0,0,0,0,0,0,0,0,0,0,/*40*/0,0,0,0,0,0,0,0,0,0,/*50*/0,0,0,0,0,0,0,0,0,0,/*60*/0,0,0,0,0,0,0,0,0,0,
/*70*/0,0,0,0,0,0,0,0,0,0,/*80*/0,0,0,0,0,0,0,0,0,0,/*90*/0,0,0,0,0,0,0,0,0,0,/*100*/0,0,0,0,0,0,0,0,0,0,
/*110*/0,0,0,0,0,0,0,0,0,0,/*120*/0,0,0,0,0,0,0,0,0,0,/*130*/0,0,0,0,0,0,0,0,0,0,/*140*/0,0,0,0,0,0,0,0,0,0,
/*150*/0,0,0,0,0,0,0,0,0,0,
/*160*/0,0,0,0,0,0,0,0,0,-2.6,
/*170*/3.2,-7.0,0.4,0.4,1.7,0.2,1.4,1.0,1.5,0.8,
/*180*/2.95,-0.7,0.2,0.45,-0.05,0.6,1.2,1.9,1.4,1.4,
/*190*/0.9,-1.7,-0.3,-0.26,1.0,2.2,0.5,-0.9,-2.0,-4.4,
/*200*/0.9,0.2,0.15,0.1,0.1,0.05,0,0.05,0,-0.05,
/*210*/0,0.05,-0.05,0,-0.1,-0.15,-0.15,0,0.05,0,
/*220*/-0.1,-0.2,-0.3,-0.36,-0.1,0,0.05,-0.05,0,-0.1,
/*230*/0,0.05,-0.05,0,-0.15,0,0.05,0,-0.1,-0.2,
/*240*/-0.1,0,0.05,0,-0.1,0,0.05,0.1,0,-0.05,
/*250*/0,0.1,0.15,0.1,0.15,0.16,0.05,0,-0.1,-0.15,
/*260*/-0.1,0,0.05,-0.1,-0.15,0,0.05,0,-0.1,0,
/*270*/0.05,0,-0.1,0,0.05,-0.05,0,0.1,0,-0.05,
/*280*/0,0.05,-0.1,0,0.05,0.1,0,-0.05,0.1,0.3,
/*290*/0.1,0,-0.05,0,0.05,-0.1,0,0.05,0,-0.05,
/*300*/0,0.05,0,-0.1,0,0.05,0,-0.05,0.05,0,
/*310*/-0.1,0,0.05,0,0.05,0,-0.05,0,0.1,0,
/*320*/-0.05,0,0.05,0.1,0,-0.05,0,0.05,0,0.1,
/*330*/0.05,0,-0.05,0,0.05,0.1,0.05,0,0.05,0.1,
/*340*/0.05,0,0.05,0.1,0,0.05,0.1,0.05,0,0.15,
/*350*/0.05,0,0.05,0.1,0,0.05,0,0.1,0.05,0,
/*360*/0,0,0,-0.05,0,0,0.1,2.1,0,0,
/*370*/0.05,0.1,-0.1,0,0.1,0.3,-0.3,0.05,0,-0.1,
/*380*/0,0.85,-0.1,0,0,0.2,0.3,0.55,0.1,-0.1,
/*390*/-0.2,-0.3,0.1,3.4,0.3,0.5,0.2,1.25,0,0,
/*400*/-0.2,-0.5,-0.3,-0.6,-0.8,-1.5,9.6,4.8,0,0,
/*410*/0,0,0,0,0,0,0,0,0,0,/*420*/0,0,0,0,0,0,0,0,0,0,/*430*/0,0,0,0,0,0,0,0,0,0,/*440*/0,0,0,0,0,0,0,0,0,0,
/*450*/0,0,0,0,0,0,0,0,0,0,/*460*/0,0,0,0,0,0,0,0,0,0,/*470*/0,0,0,0,0,0,0,0,0,0,/*480*/0,0,0,0,0,0,0,0,0,0,
/*490*/0,0,0,0,0,0,0,0,0,0,/*500*/0,0,0,0,0,0,0,0,0,0,/*510*/0,0,0,0,0,0,0,0,0,0,
/*520*/0,0,0,0,0,0,3.4,0,0,0,
/*530*/0,0,0,-1.3,-1.35,-1.4,-2.1,0,0,0,
/*540*/0.2,1.35,0,0,0,0];

const seriesData = [bilbao, dunkerque, gateTerminal, huelva, klaipeda, montoir, mugardos, sines, swinoujscie, zeebrugge];
const annotationText = "But greatest impact is\non Lithuania\u2019s LNG\nterminal";
const arrowStart = [242, 5.94];
const arrowEnds = [[229, -3.75], [442, -3.8]];

const days = [];
for (let i = 0; i < dayCount; i++) days.push(String(i));

const FONT = "'Liberation Serif', 'Times New Roman', serif";
const series = seriesNames.map((n, k) => ({
  name: n, type: 'line', data: seriesData[k], symbol: 'none', showSymbol: false,
  lineStyle: {width: 4.8, color: seriesColors[k], join: 'round', cap: 'round'},
  itemStyle: {color: seriesColors[k]}, color: seriesColors[k],
  emphasis: {disabled: true}, silent: true, z: 2 + k
}));
series[9].markLine = {
  silent: true, symbol: ['none', 'triangle'], symbolSize: [16, 20], animation: false,
  label: {show: false}, lineStyle: {color: '#FF0000', width: 2.5, type: 'solid'},
  emphasis: {disabled: true},
  data: arrowEnds.map(e => [{coord: arrowStart}, {coord: e}])
};

const legendBase = {orient: 'vertical', icon: 'rect', itemWidth: 47, itemHeight: 6, itemGap: 8.8, padding: 0,
  selectedMode: false, textStyle: {fontFamily: FONT, fontSize: 31, color: '#000', lineHeight: 30}};

const chart = echarts.init(document.getElementById('c'), null, {renderer: 'canvas'});
chart.setOption({
  animation: false,
  backgroundColor: '#fff',
  color: seriesColors,
  grid: {left: 117, right: 19, top: 35, bottom: 560, containLabel: false},
  xAxis: {
    type: 'category', data: days, boundaryGap: false,
    axisLine: {show: false, onZero: false}, axisTick: {show: false}, splitLine: {show: false},
    axisLabel: {interval: tickStep - 1, rotate: 90, margin: 23, fontFamily: FONT, fontSize: 30, color: '#000',
      formatter: (v, i) => tickLabels[Math.round(i / tickStep)] || ''}
  },
  yAxis: {
    type: 'value', min: -8, max: 10, interval: 2,
    axisLine: {show: false}, axisTick: {show: false}, splitLine: {show: false},
    axisLabel: {margin: 30, fontFamily: FONT, fontSize: 29, color: '#000'}
  },
  legend: [
    Object.assign({}, legendBase, {left: 89, top: 1011, data: [seriesNames[0], seriesNames[3], seriesNames[6], seriesNames[9]]}),
    Object.assign({}, legendBase, {left: 685, top: 1011, data: [seriesNames[1], seriesNames[4], seriesNames[7]]}),
    Object.assign({}, legendBase, {left: 1283, top: 1011, data: [seriesNames[2], seriesNames[5], seriesNames[8]]})
  ],
  graphic: [
    {type: 'rect', silent: true, z: -10, shape: {x: 9, y: 6, width: 1776, height: 1160},
      style: {fill: 'none', stroke: '#D9D9D9', lineWidth: 1.5}},
    {type: 'text', silent: true, x: 34, y: 285, rotation: Math.PI / 2,
      style: {text: 'mmcm/day', font: "32px 'Liberation Serif', serif", fill: '#000', textAlign: 'center', textVerticalAlign: 'middle'}},
    {type: 'text', silent: true, x: 828, y: 38, z: 100,
      style: {text: annotationText, font: "40px 'Liberation Serif', serif", fill: '#FF0000', textAlign: 'center', textVerticalAlign: 'top', lineHeight: 45}}
  ],
  series: series
});
</script>
</body></html>
